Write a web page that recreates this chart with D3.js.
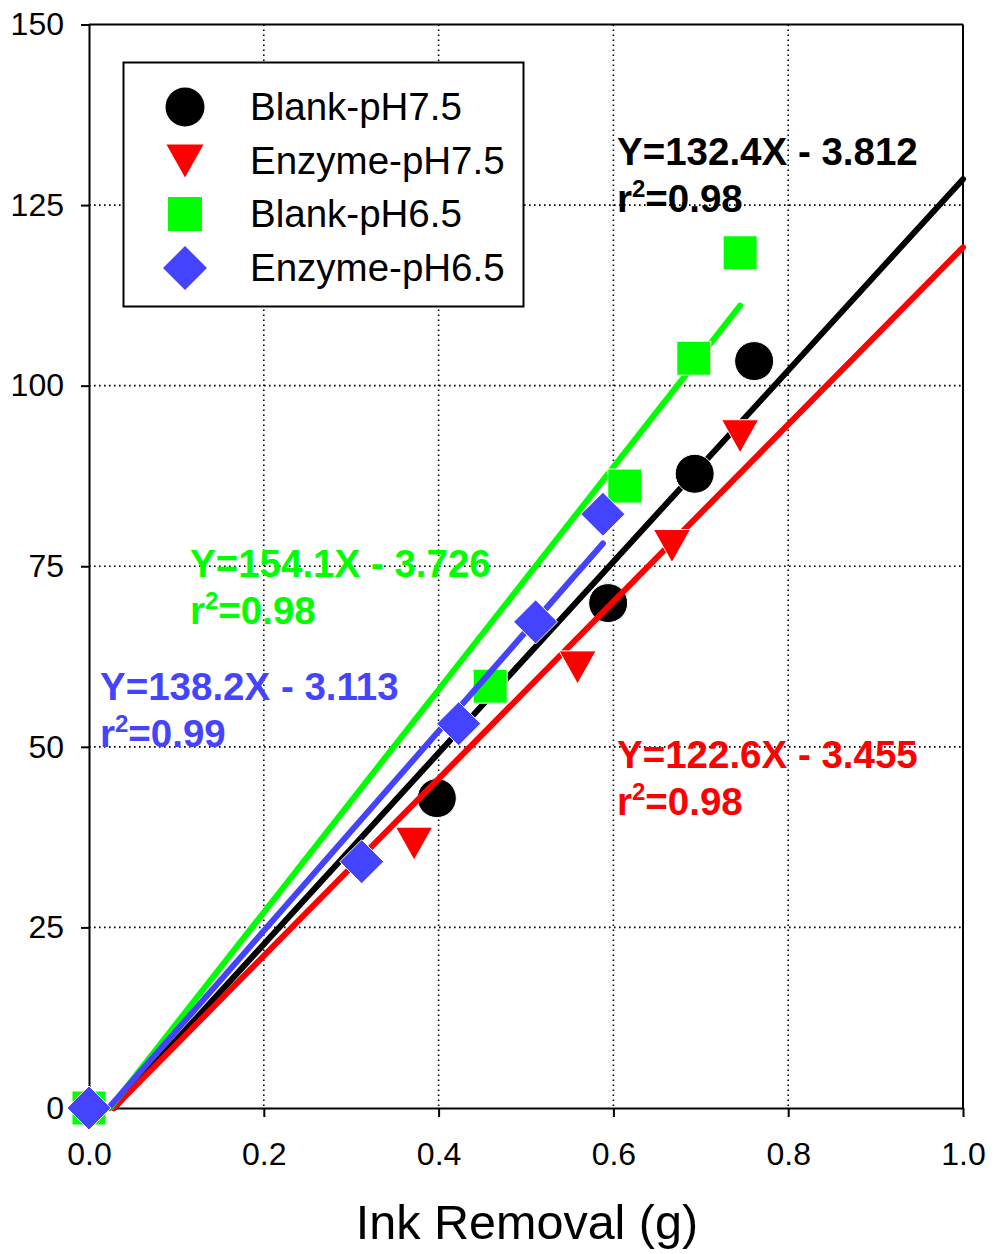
<!DOCTYPE html>
<html>
<head>
<meta charset="utf-8">
<script src="https://cdn.jsdelivr.net/npm/d3@7"></script>
<style>
  body { margin: 0; background: #fff; }
  text { font-family: "Liberation Sans", Arial, sans-serif; }
</style>
</head>
<body>
<div id="vis"></div>
<script>
// Ink removal (g) vs. value, four treatments
const blankPH75X = [0.398, 0.594, 0.693, 0.761];
const blankPH75Y = [42.9, 69.9, 87.8, 103.4];
const enzymePH75X = [0.372, 0.559, 0.667, 0.745];
const enzymePH75Y = [36.6, 61.0, 77.8, 93.0];
const blankPH65X = [0.0, 0.459, 0.613, 0.692, 0.745];
const blankPH65Y = [0, 58.4, 86.1, 103.8, 118.4];
const enzymePH65X = [0.0, 0.312, 0.423, 0.511, 0.588];
const enzymePH65Y = [0, 34.1, 53.2, 67.3, 82.2];

// regression fits: slope, intercept, x end, r2
const fitSlopes = [132.4, 122.6, 154.1, 138.2];
const fitIntercepts = [-3.812, -3.455, -3.726, -3.113];
const fitXEnds = [1.0, 1.0, 0.745, 0.588];
const fitR2 = ["0.98", "0.98", "0.98", "0.99"];

const seriesNames = ["Blank-pH7.5", "Enzyme-pH7.5", "Blank-pH6.5", "Enzyme-pH6.5"];
const xTicks = [0, 0.2, 0.4, 0.6, 0.8, 1.0];
const yTicks = [0, 25, 50, 75, 100, 125, 150];

const colors = ["#000000", "#ff0000", "#00ff00", "#4444ff"];
const symbols = [d3.symbolCircle, "tri", d3.symbolSquare, "diamond"];

const margin = { top: 24.5, right: 31, bottom: 146, left: 89 };
const W = 994, H = 1254;
const width = W - margin.left - margin.right;
const height = H - margin.top - margin.bottom;

const svg = d3.select("#vis").append("svg")
  .attr("width", W).attr("height", H);
const g = svg.append("g")
  .attr("transform", `translate(${margin.left},${margin.top})`);

const x = d3.scaleLinear().domain([0, 1]).range([0, width]);
const y = d3.scaleLinear().domain([0, 150]).range([height, 0]);

// marker path generator
function markerPath(i) {
  const s = symbols[i];
  if (s === "tri") return "M-18.5,-16.5L18.5,-16.5L0,16.5Z";
  if (s === "diamond") return "M0,-22L22,0L0,22L-22,0Z";
  if (s === d3.symbolSquare) return "M-17,-17L17,-17L17,17L-17,17Z";
  return d3.symbol(s, Math.PI * 19.5 * 19.5)();
}

// equation labels (under the grid)
const eqPos = [
  { x: 617, y: 165 },
  { x: 617, y: 768 },
  { x: 190, y: 577 },
  { x: 100, y: 700 }
];
eqPos.forEach((p, i) => {
  const sign = fitIntercepts[i] < 0 ? " - " : " + ";
  svg.append("text")
    .attr("x", p.x).attr("y", p.y)
    .attr("font-size", 38.5).attr("font-weight", "bold")
    .attr("fill", colors[i])
    .text(`Y=${fitSlopes[i]}X${sign}${Math.abs(fitIntercepts[i]).toFixed(3)}`);
  const t = svg.append("text")
    .attr("x", p.x).attr("y", p.y + 47)
    .attr("font-size", 38.5).attr("font-weight", "bold")
    .attr("fill", colors[i]);
  t.append("tspan").text("r");
  t.append("tspan").attr("font-size", 24).attr("dy", -15).text("2");
  t.append("tspan").attr("dy", 15).text("=" + fitR2[i]);
});

// grid
g.append("g").selectAll("line")
  .data(xTicks.slice(1, -1)).enter().append("line")
  .attr("x1", d => x(d)).attr("x2", d => x(d))
  .attr("y1", 0).attr("y2", height)
  .attr("stroke", "#000").attr("stroke-width", 1.6)
  .attr("stroke-dasharray", "1.6,3.4");
g.append("g").selectAll("line")
  .data(yTicks.slice(1, -1)).enter().append("line")
  .attr("x1", 0).attr("x2", width)
  .attr("y1", d => y(d)).attr("y2", d => y(d))
  .attr("stroke", "#000").attr("stroke-width", 1.6)
  .attr("stroke-dasharray", "1.6,3.4");

// axes
const xAxis = g.append("g")
  .attr("transform", `translate(0,${height})`)
  .call(d3.axisBottom(x).tickValues(xTicks).tickFormat(d3.format(".1f")).tickSizeInner(9).tickSizeOuter(0).tickPadding(24));
const yAxis = g.append("g")
  .call(d3.axisLeft(y).tickValues(yTicks).tickSizeInner(8).tickSizeOuter(0).tickPadding(17));
[xAxis, yAxis].forEach(a => {
  a.select(".domain").attr("stroke-width", 2);
  a.selectAll(".tick line").attr("stroke-width", 2);
  a.selectAll("text").attr("font-size", 32).attr("fill", "#000")
    .attr("font-family", "'Liberation Sans', Arial, sans-serif");
});
xAxis.selectAll("text").attr("dy", "0.75em");
// frame top and right
g.append("line").attr("x1", 0).attr("x2", width).attr("y1", 0).attr("y2", 0)
  .attr("stroke", "#000").attr("stroke-width", 2);
g.append("line").attr("x1", width).attr("x2", width).attr("y1", 0).attr("y2", height)
  .attr("stroke", "#000").attr("stroke-width", 2);

svg.append("text")
  .attr("x", 527).attr("y", 1239)
  .attr("text-anchor", "middle")
  .attr("font-size", 48.5)
  .text("Ink Removal (g)");

// series
const xs = [blankPH75X, enzymePH75X, blankPH65X, enzymePH65X];
const ys = [blankPH75Y, enzymePH75Y, blankPH65Y, enzymePH65Y];
const line = d3.line().x(d => x(d[0])).y(d => y(d[1]));

xs.forEach((xv, i) => {
  const x0 = -fitIntercepts[i] / fitSlopes[i];
  const x1 = fitXEnds[i];
  g.append("path")
    .datum([[x0, 0], [x1, fitSlopes[i] * x1 + fitIntercepts[i]]])
    .attr("d", line)
    .attr("fill", "none")
    .attr("stroke", colors[i])
    .attr("stroke-width", 6)
    .attr("stroke-linecap", "round");

  g.append("g").selectAll("path")
    .data(xv.map((v, j) => [v, ys[i][j]]))
    .enter().append("path")
    .attr("transform", d => `translate(${x(d[0])},${y(d[1])})`)
    .attr("d", markerPath(i))
    .attr("fill", colors[i])
    .attr("stroke", "#fff")
    .attr("stroke-width", 1);
});

// legend
const legend = svg.append("g");
legend.append("rect")
  .attr("x", 123.5).attr("y", 62.5).attr("width", 400).attr("height", 244)
  .attr("fill", "#fff").attr("stroke", "#000").attr("stroke-width", 2);
const legendRows = [107, 161, 214, 268];
seriesNames.forEach((name, i) => {
  legend.append("path")
    .attr("transform", `translate(185,${legendRows[i]})`)
    .attr("d", markerPath(i))
    .attr("fill", colors[i]);
  legend.append("text")
    .attr("x", 250).attr("y", legendRows[i] + 13)
    .attr("font-size", 38.5)
    .text(name);
});
</script>
</body>
</html>
